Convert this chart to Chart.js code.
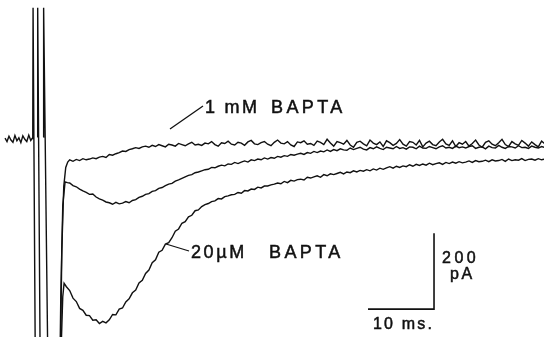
<!DOCTYPE html>
<html>
<head>
<meta charset="utf-8">
<script src="https://cdn.jsdelivr.net/npm/chart.js@4"></script>
<style>
  html, body { margin: 0; padding: 0; background: #fff; }
  #traces { display: block; }
</style>
</head>
<body>
<canvas id="traces" width="544" height="337"></canvas>
<script>
// sampling of the recorded currents (ms)
const sampleStart = 4.5;
const sampleStep = 0.5;

// pre-stimulus baseline (ms, pA)
const baselineTimes = [-5.3, -5.0, -4.7, -4.4, -4.1, -3.8, -3.5, -3.2, -2.9, -2.6, -2.3, -2.0, -1.7, -1.4, -1.2];
const baselineCurrents = [-3, -12, 2, -8, -14, 4, -10, -2, -15, 3, -6, -12, 5, -9, -4];

// stimulus artifact + return of each trace (ms, pA)
const artifact1mMTimes = [-1.1, -1.05, -0.6, 2.9, 3.3, 3.6, 3.9, 4.2];
const artifact1mMCurrents = [0, 340, -900, -900, -300, -130, -80, -66];
const artifactMidTimes = [-0.4, -0.35, 0.15, 2.8, 3.15, 3.45, 3.8, 4.15];
const artifactMidCurrents = [0, 340, -900, -900, -420, -180, -118, -120];
const artifact20uMTimes = [0.5, 0.55, 1.4, 2.7, 3.2, 3.45, 3.65, 4.0];
const artifact20uMCurrents = [0, 340, -900, -900, -560, -420, -385, -394];

// currents from 4.5 ms to 76.5 ms every 0.5 ms (pA)
const current1mM = [
  -60,-64,-59,-62,-57,-60,-58,-55,-57,-53,-51,-54,-46,-48,-44,-41,-37,-38,-33,-31,
  -28,-30,-26,-24,-27,-22,-25,-20,-23,-26,-19,-21,-24,-17,-20,-23,-18,-14,-21,-19,
  -22,-16,-18,-12,-20,-24,-15,-17,-11,-19,-21,-14,-16,-22,-13,-9,-18,-20,-15,-12,
  -19,-23,-14,-8,-16,-18,-12,-21,-25,-13,-15,-10,-19,-17,-22,-11,-14,-20,-6,-16,
  -24,-12,-15,-19,-9,-21,-27,-14,-11,-18,-23,-8,-16,-20,-13,-25,-10,-15,-22,-17,
  -7,-19,-24,-12,-14,-21,-9,-26,-16,-11,-20,-23,-13,-6,-18,-22,-10,-25,-15,-19,
  -12,-24,-17,-8,-21,-27,-14,-10,-19,-23,-15,-6,-20,-25,-12,-18,-22,-9,-16,-24,
  -13,-20,-26,-11,-18
];
const currentMid = [
  -121,-128,-131,-137,-142,-146,-151,-150,-158,-163,-166,-171,-173,-177,-172,-176,-174,-170,-173,-167,
  -165,-159,-156,-151,-149,-143,-141,-135,-133,-128,-124,-122,-116,-113,-109,-105,-101,-99,-94,-92,
  -89,-86,-85,-80,-81,-77,-74,-76,-71,-72,-67,-70,-66,-63,-66,-60,-62,-58,-60,-55,
  -58,-54,-56,-51,-53,-49,-51,-46,-48,-45,-43,-46,-41,-43,-38,-41,-37,-39,-34,-38,
  -33,-36,-31,-34,-35,-29,-33,-30,-27,-32,-34,-28,-31,-26,-30,-33,-27,-29,-31,-25,
  -30,-28,-32,-26,-27,-31,-24,-29,-30,-25,-28,-31,-26,-23,-29,-27,-30,-24,-28,-26,
  -29,-25,-23,-30,-27,-26,-31,-24,-28,-29,-22,-27,-30,-25,-26,-29,-23,-28,-27,-30,
  -24,-27,-29,-25,-28
];
const current20uM = [
  -404,-424,-433,-451,-456,-469,-470,-482,-481,-491,-485,-489,-481,-467,-468,-453,-450,-434,-426,-410,
  -403,-384,-377,-359,-350,-331,-323,-303,-298,-282,-278,-265,-248,-242,-227,-223,-210,-206,-194,-192,
  -183,-178,-175,-170,-168,-162,-163,-157,-155,-152,-151,-146,-148,-141,-142,-137,-138,-132,-134,-129,
  -129,-126,-124,-121,-123,-117,-120,-114,-116,-112,-111,-113,-106,-108,-105,-102,-106,-99,-102,-97,
  -99,-96,-93,-97,-92,-94,-89,-92,-88,-90,-86,-89,-84,-87,-82,-85,-81,-78,-82,-77,
  -80,-76,-78,-73,-77,-72,-75,-71,-74,-69,-73,-70,-68,-72,-67,-70,-66,-69,-65,-68,
  -66,-63,-67,-62,-65,-64,-61,-65,-60,-63,-62,-59,-64,-58,-62,-60,-61,-57,-62,-59,
  -58,-61,-57,-60,-58
];

// scale bar: 10 ms, 200 pA
const scaleBarTimes = [49.7, 59.7, 59.7];
const scaleBarCurrents = [-453, -453, -253];

const sampleTimes = current1mM.map((_, i) => sampleStart + i * sampleStep);

function toPoints(times, values) {
  return times.map((t, i) => ({ x: t, y: values[i] }));
}

const ink = '#111';
const traceStyle = { borderColor: ink, borderWidth: 1.4, pointRadius: 0, tension: 0, fill: false };

const labels = [
  { text: '1 mM', x: 205, y: 113, size: 18, spacing: 2.3 },
  { text: 'BAPTA', x: 271, y: 113, size: 18, spacing: 3.4 },
  { text: '20µM', x: 191, y: 258, size: 18, spacing: 2.6 },
  { text: 'BAPTA', x: 269, y: 258, size: 18, spacing: 3.4 },
  { text: '200', x: 442, y: 263, size: 16, spacing: 3.5 },
  { text: 'pA', x: 450, y: 279, size: 16, spacing: 2.5 },
  { text: '10 ms.', x: 373, y: 329, size: 16, spacing: 2.2 }
];
const leaders = [
  [170, 129, 203, 106],
  [166, 244, 189, 251]
];

const textPlugin = {
  id: 'figureText',
  afterDatasetsDraw(chart) {
    const ctx = chart.ctx;
    ctx.save();
    ctx.strokeStyle = ink;
    ctx.lineWidth = 1.3;
    leaders.forEach(l => {
      ctx.beginPath();
      ctx.moveTo(l[0], l[1]);
      ctx.lineTo(l[2], l[3]);
      ctx.stroke();
    });
    ctx.fillStyle = ink;
    ctx.lineWidth = 0.5;
    ctx.textBaseline = 'alphabetic';
    labels.forEach(l => {
      ctx.font = l.size + 'px "Liberation Sans", Arial, sans-serif';
      ctx.letterSpacing = l.spacing + 'px';
      ctx.fillText(l.text, l.x, l.y);
      ctx.strokeText(l.text, l.x, l.y);
    });
    ctx.restore();
  }
};

new Chart(document.getElementById('traces'), {
  type: 'line',
  data: {
    datasets: [
      { label: '1 mM BAPTA', ...traceStyle,
        data: toPoints(baselineTimes.concat(artifact1mMTimes, sampleTimes),
                       baselineCurrents.concat(artifact1mMCurrents, current1mM)) },
      { label: 'intermediate', ...traceStyle,
        data: toPoints(artifactMidTimes.concat(sampleTimes), artifactMidCurrents.concat(currentMid)) },
      { label: '20 µM BAPTA', ...traceStyle,
        data: toPoints(artifact20uMTimes.concat(sampleTimes), artifact20uMCurrents.concat(current20uM)) },
      { label: 'scale', borderColor: ink, borderWidth: 1.6, pointRadius: 0, tension: 0,
        data: toPoints(scaleBarTimes, scaleBarCurrents) }
    ]
  },
  options: {
    responsive: false,
    animation: false,
    devicePixelRatio: 1,
    layout: { padding: 0 },
    plugins: { legend: { display: false }, tooltip: { enabled: false } },
    scales: {
      x: { type: 'linear', display: false, min: -40 / 6.6, max: 504 / 6.6 },
      y: { type: 'linear', display: false, min: -200 * 200 / 76, max: 137 * 200 / 76 }
    }
  },
  plugins: [textPlugin]
});
</script>
</body>
</html>
